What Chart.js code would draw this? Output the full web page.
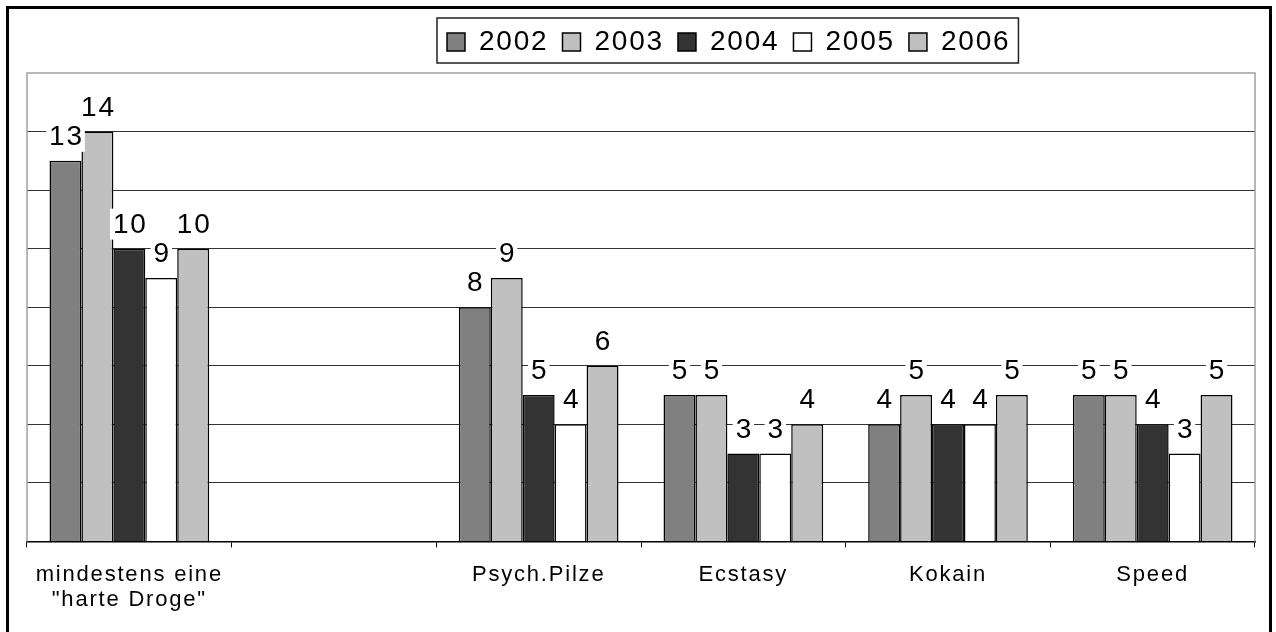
<!DOCTYPE html>
<html>
<head>
<meta charset="utf-8">
<script src="https://cdn.jsdelivr.net/npm/chart.js@4.4.1/dist/chart.umd.min.js"></script>
<style>
  html, body { margin: 0; padding: 0; background: #fff; }
  body { width: 1276px; height: 632px; overflow: hidden; position: relative; }
  #frame { position: absolute; left: 6px; top: 6px; width: 1260px; height: 640px; border: 3px solid #000; }
  #wrap { position: absolute; left: 0; top: 0; width: 1276px; height: 632px; }
</style>
</head>
<body>
<div id="frame"></div>
<div id="wrap"><canvas id="drugChart" width="1276" height="632"></canvas></div>
<script>
// categories (the second one is an empty slot in the original chart)
const categories = [['mindestens eine', '"harte Droge"'], '', 'Psych.Pilze', 'Ecstasy', 'Kokain', 'Speed'];
const years = ['2002', '2003', '2004', '2005', '2006'];

const values2002 = [13, null, 8, 5, 4, 5];
const values2003 = [14, null, 9, 5, 5, 5];
const values2004 = [10, null, 5, 3, 4, 4];
const values2005 = [9, null, 4, 3, 4, 3];
const values2006 = [10, null, 6, 4, 5, 5];

const yMax = 16;
const yStep = 2;

const barColors = ['#808080', '#c0c0c0', '#333333', '#ffffff', '#c0c0c0'];
const FONT = '"Liberation Sans", Arial, sans-serif';

const seriesValues = [values2002, values2003, values2004, values2005, values2006];

const ctx = document.getElementById('drugChart').getContext('2d');
ctx.letterSpacing = '1.8px'; // the original text is slightly spaced out

// frame of the plot area, value labels and the box round the legend
const chartDecor = {
  id: 'chartDecor',
  beforeUpdate(chart) {
    chart.ctx.letterSpacing = '1.8px';
  },
  afterLayout(chart) {
    // legend sits right of centre in the original
    const lg = chart.legend;
    const pad = lg.options.labels.padding;
    const start = (lg.left + pad + lg.right - lg.lineWidths[0]) / 2;
    const dx = 447 - start;
    lg.left += dx;
    lg.right += dx;
    lg.top -= 7;
    lg.bottom -= 7;
  },
  beforeDatasetsDraw(chart) {
    const c = chart.ctx;
    const a = chart.chartArea;
    c.save();
    c.strokeStyle = '#a0a0a0';
    c.lineWidth = 1.5;
    c.beginPath();
    c.moveTo(a.left, a.bottom);
    c.lineTo(a.left, a.top);
    c.lineTo(a.right, a.top);
    c.lineTo(a.right, a.bottom);
    c.stroke();
    c.restore();
  },
  afterDatasetsDraw(chart) {
    const c = chart.ctx;
    c.save();
    c.font = '28px ' + FONT;
    c.textAlign = 'center';
    c.textBaseline = 'alphabetic';
    chart.data.datasets.forEach((ds, i) => {
      const meta = chart.getDatasetMeta(i);
      meta.data.forEach((bar, j) => {
        const v = ds.data[j];
        if (v === null || v === undefined) return;
        const txt = String(v);
        const w = c.measureText(txt).width;
        const base = bar.y - 16;
        c.fillStyle = '#fff';
        c.fillRect(bar.x - w / 2 - 2, base - 24, w + 4, 31);
        c.fillStyle = '#000';
        c.fillText(txt, bar.x + 1, base);
      });
    });
    c.restore();
  },
  afterDraw(chart) {
    const hb = chart.legend.legendHitBoxes;
    if (!hb || !hb.length) return;
    const c = chart.ctx;
    const last = hb[hb.length - 1];
    const left = hb[0].left - 10;
    const right = last.left + last.width + 8;
    const top = hb[0].top - 10;
    c.save();
    c.strokeStyle = '#222';
    c.lineWidth = 1.5;
    c.strokeRect(left, top, right - left, 45);
    c.restore();
  }
};

new Chart(ctx, {
  type: 'bar',
  data: {
    labels: categories,
    datasets: years.map((y, i) => ({
      label: y,
      data: seriesValues[i],
      backgroundColor: barColors[i],
      borderColor: '#000',
      borderWidth: 1.5,
      categoryPercentage: 0.78,
      barPercentage: 1.0,
    })),
  },
  options: {
    responsive: false,
    animation: false,
    layout: {
      padding: { left: 27, right: 21, top: 21, bottom: 4 },
    },
    plugins: {
      legend: {
        position: 'top',
        labels: {
          boxWidth: 18,
          boxHeight: 18,
          padding: 14,
          color: '#000',
          font: { family: FONT, size: 28 },
        },
      },
      title: { display: false },
      tooltip: { enabled: false },
    },
    scales: {
      x: {
        grid: {
          display: true,
          drawOnChartArea: false,
          drawTicks: true,
          tickLength: 6,
          tickColor: '#000',
          tickWidth: 1,
        },
        border: { display: true, color: '#000', width: 1.5 },
        ticks: {
          color: '#000',
          padding: 15,
          maxRotation: 0,
          autoSkip: false,
          font: { family: FONT, size: 22, lineHeight: 1.15 },
        },
      },
      y: {
        min: 0,
        max: yMax,
        grid: {
          drawTicks: false,
          color: (c) => (c.tick.value === 0 || c.tick.value === yMax ? 'rgba(0,0,0,0)' : '#333'),
          lineWidth: 1,
        },
        border: { display: false },
        ticks: { display: false, stepSize: yStep },
      },
    },
  },
  plugins: [chartDecor],
});
</script>
</body>
</html>
